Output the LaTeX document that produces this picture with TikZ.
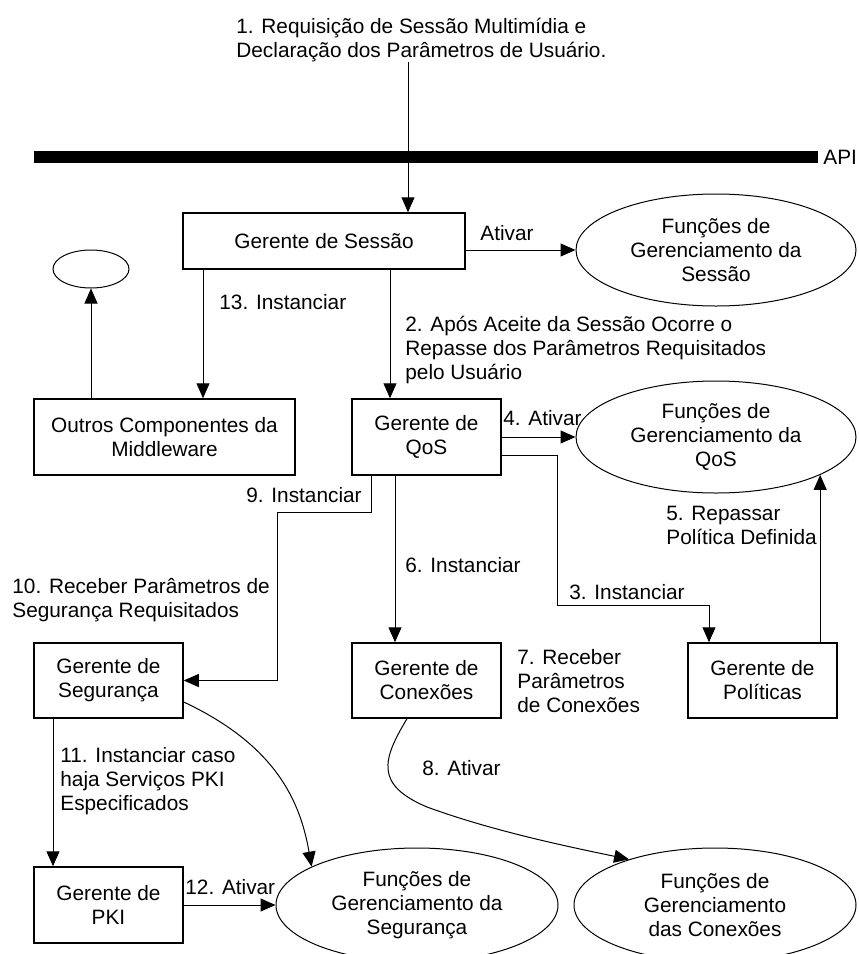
\documentclass[tikz,border=0pt]{standalone}
\usepackage{fontspec}
\setmainfont{Liberation Sans}
\usetikzlibrary{arrows.meta,shapes.geometric}
\tikzset{
  box/.style={draw,line width=0.75pt,rectangle,align=center,minimum width=74.5pt,minimum height=38pt,inner sep=0pt},
  func/.style={draw,line width=0.5pt,ellipse,align=center,minimum width=140pt,minimum height=56pt,inner sep=0pt},
  arr/.style={line width=0.5pt,-{Triangle[length=7.5pt,width=6.5pt]}},
  lbl/.style={anchor=west,align=left,inner sep=0pt},
}
\begin{document}
\begin{tikzpicture}[x=0.5pt,y=-0.5pt,font=\fontsize{10.4}{12}\selectfont]
	\useasboundingbox (0,0) rectangle (858,954);
	% API
	\node[lbl] (req) at (236,40) {1. Requisição de Sessão Multimídia e\\Declaração dos Parâmetros de Usuário.};
	\fill (34,151) rectangle (818,163);
	\node[lbl] (api) at (823,157) {API};
	% managers and functions
	\node[box,minimum width=141pt,minimum height=28pt] (sessao) at (324,241) {Gerente de Sessão};
	\node[func] (fsessao) at (716,250) {Funções de\\Gerenciamento da\\Sessão};
	\node[func,minimum width=38pt,minimum height=19pt] (outra) at (91,269) {};
	\node[box,minimum width=130.5pt] (outros) at (164.5,437) {Outros Componentes da\\Middleware};
	\node[box] (qos) at (426.5,437) {Gerente de\\QoS};
	\node[func] (fqos) at (716,437) {Funções de\\Gerenciamento da\\QoS};
	\node[box,minimum height=37.5pt] (seguranca) at (108.5,680.5) {Gerente de\\Segurança};
	\node[box,minimum height=37.5pt] (conexoes) at (426.5,680.5) {Gerente de\\Conexões};
	\node[box,minimum height=37.5pt] (politicas) at (762.5,680.5) {Gerente de\\Políticas};
	\node[box] (pki) at (108.5,905) {Gerente de\\PKI};
	\node[func,minimum width=141pt,minimum height=57pt] (fseg) at (417,905) {Funções de\\Gerenciamento da\\Segurança};
	\node[func,minimum width=141pt,minimum height=57pt] (fcon) at (715,905) {Funções de\\Gerenciamento\\das Conexões};
	% session
	\draw[arr] (req.south -| 408,0) -- (sessao.north -| 408,0);
	\draw[arr] (sessao.east |- fsessao.west) -- (fsessao.west);
	\node[lbl] (ativar) at (480,233) {Ativar};
	\draw[arr] (sessao.south -| 203,0) -- (outros.north -| 203,0);
	\node[lbl] (l13) at (219,302) {13. Instanciar};
	\draw[arr] (outros.north -| outra.south) -- (outra.south);
	\draw[arr] (sessao.south -| 390,0) -- (qos.north -| 390,0);
	\node[lbl] (l2) at (405,350) {2. Após Aceite da Sessão Ocorre o\\Repasse dos Parâmetros Requisitados\\pelo Usuário};
	% QoS
	\draw[arr] (qos.east |- fqos.west) -- (fqos.west);
	\node[lbl] (l4) at (503,418) {4. Ativar};
	\draw[arr] (qos.east |- 0,455) -| (557,605) -| (politicas.north -| 709,0);
	\node[lbl] (l3) at (569,592) {3. Instanciar};
	\draw[arr] (politicas.north -| fqos.-20.3) -- (fqos.-20.3);
	\node[lbl] (l5) at (666,525) {5. Repassar\\Política Definida};
	\draw[arr] (qos.south -| 371,0) |- (277,512) |- (seguranca.east);
	\node[lbl] (l9) at (246,495) {9. Instanciar};
	\draw[arr] (qos.south -| 395,0) -- (conexoes.north -| 395,0);
	\node[lbl] (l6) at (405,565) {6. Instanciar};
	\node[lbl] (l10) at (12,600) {10. Receber Parâmetros de\\Segurança Requisitados};
	\node[lbl] (l7) at (517,681) {7. Receber\\Parâmetros\\de Conexões};
	% security and connections
	\draw[arr] (seguranca.south -| 53,0) -- (pki.north -| 53,0);
	\node[lbl] (l11) at (60,781) {11. Instanciar caso\\haja Serviços PKI\\Especificados};
	\draw[arr] (seguranca.east |- 0,702) .. controls (275,745) and (300,800) .. (fseg.160);
	\draw[arr] (conexoes.south -| 407,0) .. controls (382,760) and (375,785) .. (427,807) .. controls (490,830) and (560,845) .. (fcon.152);
	\node[lbl] (l8) at (422,768) {8. Ativar};
	\draw[arr] (pki.east |- fseg.west) -- (fseg.west);
	\node[lbl] (l12) at (185,887) {12. Ativar};
\end{tikzpicture}
\end{document}
